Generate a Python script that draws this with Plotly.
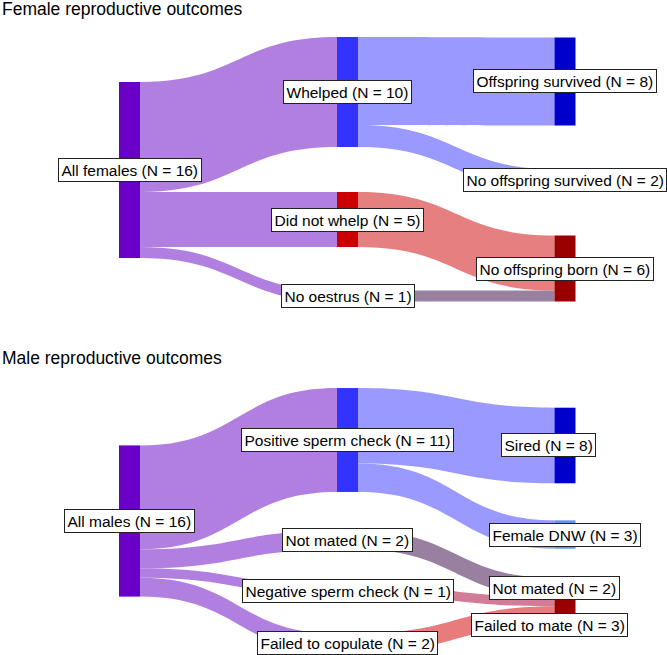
import plotly.graph_objects as go

# ---------------- data ----------------
female_nodes = ["All females (N = 16)", "Whelped (N = 10)", "Did not whelp (N = 5)",
                "No oestrus (N = 1)", "Offspring survived (N = 8)",
                "No offspring survived (N = 2)", "No offspring born (N = 6)"]
female_src = [0, 0, 0, 1, 1, 2, 3]
female_tgt = [1, 2, 3, 4, 5, 6, 6]
female_val = [10, 5, 1, 8, 2, 5, 1]

male_nodes = ["All males (N = 16)", "Positive sperm check (N = 11)", "Not mated (N = 2)",
              "Negative sperm check (N = 1)", "Failed to copulate (N = 2)",
              "Sired (N = 8)", "Female DNW (N = 3)", "Not mated (N = 2)",
              "Failed to mate (N = 3)"]
male_src = [0, 0, 0, 0, 1, 1, 2, 3, 4]
male_tgt = [1, 2, 3, 4, 5, 6, 7, 8, 8]
male_val = [11, 2, 1, 2, 8, 3, 2, 1, 2]

titles = ["Female reproductive outcomes", "Male reproductive outcomes"]

# ---------------- layout / style ----------------
W, H = 667, 655
PURPLE_N, BLUE_N, DBLUE_N, RED_N, DRED_N = "#6A00C8", "#3333FF", "#0000CC", "#CC0000", "#990000"
PURPLE_L, BLUE_L, RED_L, GREY_L, PINK_L, SALMON_L = "#B07FE0", "#9999FF", "#E68080", "#9A80A0", "#D27D98", "#E87C7C"

female_node_col = [PURPLE_N, BLUE_N, RED_N, GREY_L, DBLUE_N, BLUE_L, DRED_N]
female_link_col = [PURPLE_L, PURPLE_L, PURPLE_L, BLUE_L, BLUE_L, RED_L, GREY_L]
male_node_col = [PURPLE_N, BLUE_N, GREY_L, PINK_L, SALMON_L, DBLUE_N, "#6495ED", DRED_N, DRED_N]
male_link_col = [PURPLE_L] * 4 + [BLUE_L, BLUE_L, GREY_L, PINK_L, SALMON_L]

# pixel layout of each panel: domain (top, bottom), node padding, node centres
col_px = [129.5, 347.5, 565]
panels = [
    dict(nodes=female_nodes, src=female_src, tgt=female_tgt, val=female_val,
         ncol=female_node_col, lcol=female_link_col, top=30, bottom=310, pad=52,
         ncolumn=[0, 1, 1, 1, 2, 2, 2],
         ypx=[170, 92, 219.5, 296, 81.5, 180, 268.5],
         lab_dx=[0, 0, 0, 0, 0, 0, 0], lab_dy=[0, 0, 0, 0, 0, 0, 0],
         title_y=9),
    dict(nodes=male_nodes, src=male_src, tgt=male_tgt, val=male_val,
         ncol=male_node_col, lcol=male_link_col, top=380, bottom=655, pad=41.27,
         ncolumn=[0, 1, 1, 1, 1, 2, 2, 2, 2],
         ypx=[521, 440, 540, 591, 643, 445.5, 534.5, 587.5, 611],
         lab_dx=[0, 0, 0, 0, 0, -17, 0, -11, -16], lab_dy=[0, 0, 0, 0, 0, 0, 0, 0, 13.5],
         title_y=358),
]

fig = go.Figure()
annotations = []
for p in panels:
    hgt = p["bottom"] - p["top"]
    xs = [col_px[c] / W for c in p["ncolumn"]]
    ys = [(y - p["top"]) / hgt for y in p["ypx"]]
    fig.add_trace(go.Sankey(
        domain=dict(x=[0, 1], y=[1 - p["bottom"] / H, 1 - p["top"] / H]),
        arrangement="fixed",
        node=dict(label=[""] * len(p["nodes"]), customdata=p["nodes"],
                  hovertemplate="%{customdata}<extra></extra>",
                  color=p["ncol"], x=xs, y=ys, pad=p["pad"], thickness=21,
                  line=dict(width=0)),
        link=dict(source=p["src"], target=p["tgt"], value=p["val"], color=p["lcol"],
                  hoverinfo="none"),
    ))
    for i, name in enumerate(p["nodes"]):
        annotations.append(dict(
            text=name, xref="paper", yref="paper",
            x=(col_px[p["ncolumn"][i]] + p["lab_dx"][i]) / W,
            y=1 - (p["ypx"][i] + p["lab_dy"][i]) / H,
            xanchor="center", yanchor="middle", showarrow=False,
            font=dict(family="Liberation Sans, Arial, Helvetica", size=15.5, color="black"),
            bgcolor="white", bordercolor="#222", borderwidth=1, borderpad=2.5))

for t, p in zip(titles, panels):
    annotations.append(dict(text=t, xref="paper", yref="paper", x=0, y=1 - p["title_y"] / H,
                            xanchor="left", yanchor="middle", showarrow=False,
                            font=dict(family="Liberation Sans, Arial, Helvetica", size=17.5,
                                      color="black")))

fig.update_layout(width=W, height=H, margin=dict(l=0, r=0, t=0, b=0),
                  paper_bgcolor="white", plot_bgcolor="white",
                  annotations=annotations, showlegend=False)
fig.write_html("out.html", config={"displayModeBar": False},
               post_script="document.body.style.margin='0';")
